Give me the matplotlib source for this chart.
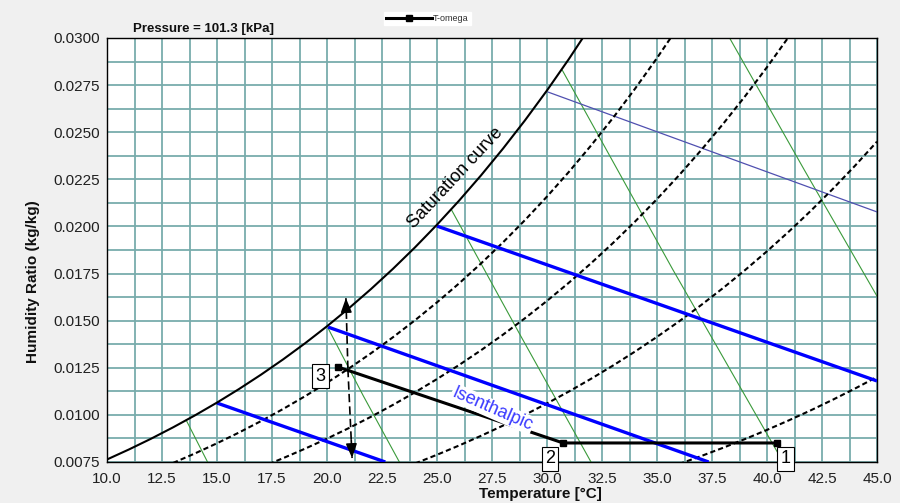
import matplotlib
matplotlib.use("Agg")
import matplotlib.pyplot as plt
from matplotlib.ticker import MultipleLocator, FormatStrFormatter

plt.rcParams['font.family'] = ['Liberation Sans', 'DejaVu Sans']

# ---------------- data ----------------
sat_T = [10, 11, 12, 13, 14, 15, 16, 17, 18, 19, 20, 21, 22, 23, 24, 25, 26, 27, 28, 29, 30, 31, 32]
sat_w = [0.007634, 0.008167, 0.008734, 0.009337, 0.009976, 0.010653, 0.011372, 0.012134, 0.012941,
         0.013797, 0.014703, 0.015663, 0.016678, 0.017753, 0.018890, 0.020093, 0.021364, 0.022709,
         0.024130, 0.025632, 0.027218, 0.028894, 0.030665]

rh80_T = [13, 14, 15, 16, 17, 18, 19, 20, 21, 22, 23, 24, 25, 26, 27, 28, 29, 30, 31, 32, 33, 34, 35, 36]
rh80_w = [0.007447, 0.007955, 0.008494, 0.009064, 0.009670, 0.010310, 0.010989, 0.011707, 0.012467,
          0.013271, 0.014122, 0.015021, 0.015971, 0.016975, 0.018035, 0.019155, 0.020338, 0.021586,
          0.022902, 0.024293, 0.025759, 0.027306, 0.028937, 0.030657]

rh60_T = [17, 18, 19, 20, 21, 22, 23, 24, 25, 26, 27, 28, 29, 30, 31, 32, 33, 34, 35, 36, 37, 38, 39, 40, 41]
rh60_w = [0.007224, 0.007701, 0.008206, 0.008739, 0.009304, 0.009901, 0.010532, 0.011198, 0.011902,
          0.012645, 0.013429, 0.014257, 0.015130, 0.016050, 0.017020, 0.018044, 0.019121, 0.020257,
          0.021453, 0.022713, 0.024039, 0.025435, 0.026905, 0.028452, 0.030080]

rh40_T = [24, 25, 26, 27, 28, 29, 30, 31, 32, 33, 34, 35, 36, 37, 38, 39, 40, 41, 42, 43, 44, 45]
rh40_w = [0.007421, 0.007884, 0.008373, 0.008889, 0.009432, 0.010005, 0.010609, 0.011244, 0.011914,
          0.012618, 0.013360, 0.014140, 0.014960, 0.015822, 0.016729, 0.017682, 0.018683, 0.019735,
          0.020840, 0.022001, 0.023221, 0.024501]

rh20_T = [36, 37, 38, 39, 40, 41, 42, 43, 44, 45]
rh20_w = [0.007391, 0.007812, 0.008253, 0.008717, 0.009203, 0.009714, 0.010248, 0.010810, 0.011398, 0.012014]

# specific-volume lines (green)
vol_T = [[13.6, 14.57], [20.05, 21.65, 23.29], [25.65, 28.8, 32.0], [30.7, 35.7, 40.73], [38.3, 41.7, 45.0]]
vol_w = [[0.00972, 0.0075], [0.01460, 0.01101, 0.0075], [0.02090, 0.01420, 0.0075],
         [0.02828, 0.01775, 0.0075], [0.0300, 0.02299, 0.01630]]

# isenthalpic lines (thick blue)
isen_T = [[15.0, 22.65], [20.05, 37.35], [25.0, 45.0]]
isen_w = [[0.01063, 0.0075], [0.01466, 0.0075], [0.02002, 0.0118]]

# thin blue line
thin_T = [30.05, 45.0]
thin_w = [0.02713, 0.02077]

# process (T-omega)
proc_T = [40.45, 30.73, 20.5]
proc_w = [0.00851, 0.00851, 0.01254]
proc_labels = ['1', '2', '3']

# vertical dashed arrows from state 3
arrow_start = (20.95, 0.01244)
arrow_up = (20.86, 0.0162)
arrow_down = (21.14, 0.00771)

# ---------------- figure ----------------
fig = plt.figure(figsize=(9, 5.03), dpi=100, facecolor='#f0f0f0')
ax = fig.add_axes([107 / 900, 1 - 462 / 503, 770 / 900, 424 / 503])
ax.set_facecolor('white')

ax.set_xlim(10, 45)
ax.set_ylim(0.0075, 0.0300)
ax.xaxis.set_major_locator(MultipleLocator(2.5))
ax.xaxis.set_minor_locator(MultipleLocator(1.25))
ax.yaxis.set_major_locator(MultipleLocator(0.0025))
ax.yaxis.set_minor_locator(MultipleLocator(0.00125))
ax.xaxis.set_major_formatter(FormatStrFormatter('%.1f'))
ax.yaxis.set_major_formatter(FormatStrFormatter('%.4f'))
ax.grid(which='both', color='#78acac', linewidth=1.3)
ax.set_axisbelow(True)
ax.tick_params(which='both', length=0, labelsize=11, labelcolor='#202020')
ax.tick_params(axis='x', pad=7)
ax.tick_params(axis='y', pad=5)
for s in ax.spines.values():
    s.set_color('black')
    s.set_linewidth(1.0)

# specific volume lines
for T, w in zip(vol_T, vol_w):
    ax.plot(T, w, color='#3a9a3a', lw=0.8, zorder=2)

# thin blue
ax.plot(thin_T, thin_w, color='#5050b0', lw=0.9, zorder=2)

# RH dashed curves
for T, w in [(rh80_T, rh80_w), (rh60_T, rh60_w), (rh40_T, rh40_w), (rh20_T, rh20_w)]:
    ax.plot(T, w, color='black', lw=1.5, dashes=(2.5, 1.5), zorder=3)

# isenthalpic lines
for T, w in zip(isen_T, isen_w):
    ax.plot(T, w, color='#0000ff', lw=2.4, zorder=3, solid_capstyle='butt')

# saturation
ax.plot(sat_T, sat_w, color='black', lw=1.5, zorder=4)

# process line
proc_line, = ax.plot(proc_T, proc_w, color='black', lw=2.2, marker='s', markersize=5,
                     zorder=5, label='T-omega')

# arrows
for tip in (arrow_up, arrow_down):
    ax.plot([arrow_start[0], tip[0]], [arrow_start[1], tip[1]], color='black', lw=1.2,
            dashes=(5, 2.5), zorder=5)
    ax.annotate('', xy=tip, xytext=(arrow_start[0] + (tip[0] - arrow_start[0]) * 0.8,
                                    arrow_start[1] + (tip[1] - arrow_start[1]) * 0.8),
                arrowprops=dict(arrowstyle='-|>,head_length=0.85,head_width=0.33', color='black',
                                lw=1.2, shrinkA=0, shrinkB=0), zorder=6)

# state labels
offsets = [(8.5, -16), (-13, -16), (-17.5, -9)]
for T, w, lab, off in zip(proc_T, proc_w, proc_labels, offsets):
    ax.annotate(lab, xy=(T, w), xytext=off, textcoords='offset pixels', ha='center', va='center',
                fontsize=13, color='black', zorder=7,
                bbox=dict(boxstyle='square,pad=0.18', fc='white', ec='black', lw=0.8))

# curve texts
ax.text(25.82, 0.02257, 'Saturation curve', rotation=47, ha='center', va='center', fontsize=13,
        color='black', zorder=6, rotation_mode='anchor')
ax.text(27.52, 0.01031, 'Isenthalpic', rotation=-23.5, ha='center', va='center', fontsize=13,
        color='#3a3aff', zorder=6, rotation_mode='anchor',
        bbox=dict(boxstyle='square,pad=0.05', fc='white', ec='none'))

# labels
ax.set_xlabel('Temperature [°C]', fontsize=11, fontweight='bold', color='#101010')
ax.xaxis.set_label_coords(0.5625, -0.058)
ax.set_ylabel('Humidity Ratio (kg/kg)', fontsize=11, fontweight='bold', color='#101010')
ax.yaxis.set_label_coords(-0.087, 0.4257)

fig.text(133 / 900, 1 - 32 / 503, 'Pressure = 101.3 [kPa]', fontsize=9.5, fontweight='bold',
         va='baseline', ha='left', color='#101010')

leg = fig.legend(handles=[proc_line], loc='upper left', bbox_to_anchor=(384 / 900, 1 - 12 / 503),
                 fontsize=6.5, frameon=True, fancybox=False, edgecolor='white', facecolor='white',
                 framealpha=1, handlelength=5.1, handletextpad=0.15, borderpad=0.2,
                 borderaxespad=0)
for t in leg.get_texts():
    t.set_color('#303030')

fig.savefig('out.png', dpi=100, facecolor=fig.get_facecolor())
